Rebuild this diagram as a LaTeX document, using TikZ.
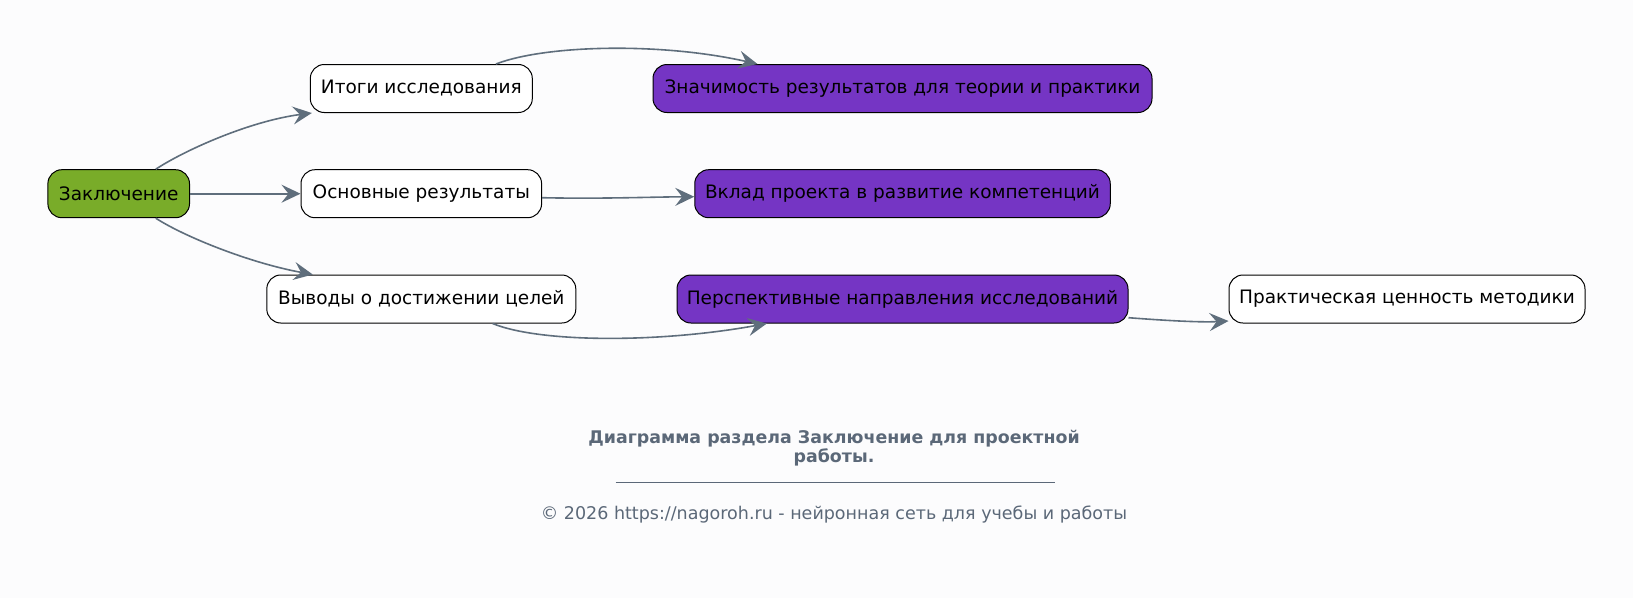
\documentclass[tikz,border=0pt]{standalone}
\usepackage{fontspec}
\setmainfont{DejaVu Sans}
\usetikzlibrary{arrows.meta,calc}
\definecolor{bg}{HTML}{FCFCFD}
\definecolor{edgec}{HTML}{5F6E7C}
\definecolor{greenc}{HTML}{79AC29}
\definecolor{purplec}{HTML}{7535C4}
\definecolor{footc}{HTML}{5B6878}
\begin{document}
\begin{tikzpicture}[x=1pt,y=-1pt,
 box/.style={draw=black, line width=1pt, rounded corners=14pt, minimum height=48pt, inner sep=0pt, font=\fontsize{18.5}{20}\selectfont, text=black},
 wbox/.style={box, fill=white},
 pbox/.style={box, fill=purplec},
 gbox/.style={box, fill=greenc},
 conn/.style={draw=edgec, line width=1.6pt, -{Stealth[length=19pt,width=18pt,inset=7pt]}},
 foot/.style={text=footc, align=center},
]
\fill[bg] (0,0) rectangle (1633,598);
\useasboundingbox (0,0) rectangle (1633,598);

\node[gbox, minimum width=141.6pt] (z) at (118.7,193.7) {Заключение};
\node[wbox, minimum width=222pt] (i) at (421.3,88.5) {Итоги исследования};
\node[wbox, minimum width=240.6pt] (o) at (421.3,193.7) {Основные результаты};
\node[wbox, minimum width=309pt] (v) at (421.3,299) {Выводы о достижении целей};
\node[pbox, minimum width=499pt] (zn) at (902.5,88.5) {Значимость результатов для теории и практики};
\node[pbox, minimum width=415.5pt] (vk) at (902.5,193.7) {Вклад проекта в развитие компетенций};
\node[pbox, minimum width=451pt] (pe) at (902.5,299) {Перспективные направления исследований};
\node[wbox, minimum width=356pt] (pr) at (1407,299) {Практическая ценность методики};

\draw[conn] ($(z.north west)!0.76!(z.north east)$) .. controls (185,150) and (250,121) .. ([xshift=2pt]i.south west);
\draw[conn] (z.east) -- (o.west);
\draw[conn] ($(z.south west)!0.76!(z.south east)$) .. controls (185,237) and (250,263) .. ($(v.north west)!0.15!(v.north east)$);
\draw[conn] ($(i.north west)!0.835!(i.north east)$) .. controls (545,45) and (660,42) .. ($(zn.north west)!0.21!(zn.north east)$);
\draw[conn] ([yshift=-4pt]o.east) .. controls (600,199) and (650,197) .. ([yshift=-3pt]vk.west);
\draw[conn] ($(v.south west)!0.73!(v.south east)$) .. controls (540,343) and (660,343) .. ($(pe.south west)!0.2!(pe.south east)$);
\draw[conn] ([yshift=-18.7pt]pe.east) .. controls (1165,320.5) and (1200,322.5) .. ([yshift=-22pt]pr.west);

\node[foot, font=\bfseries\fontsize{17.4}{19}\selectfont] (title) at (834,448) {Диаграмма раздела Заключение для проектной\\работы.};
\coordinate (ruleL) at (615.5,482);
\coordinate (ruleR) at (1055,482);
\draw[footc, line width=0.7pt] (ruleL) -- (ruleR);
\node[foot, font=\fontsize{17.5}{19}\selectfont] (copy) at (834,515) {© 2026 https://nagoroh.ru - нейронная сеть для учебы и работы};
\end{tikzpicture}
\end{document}
